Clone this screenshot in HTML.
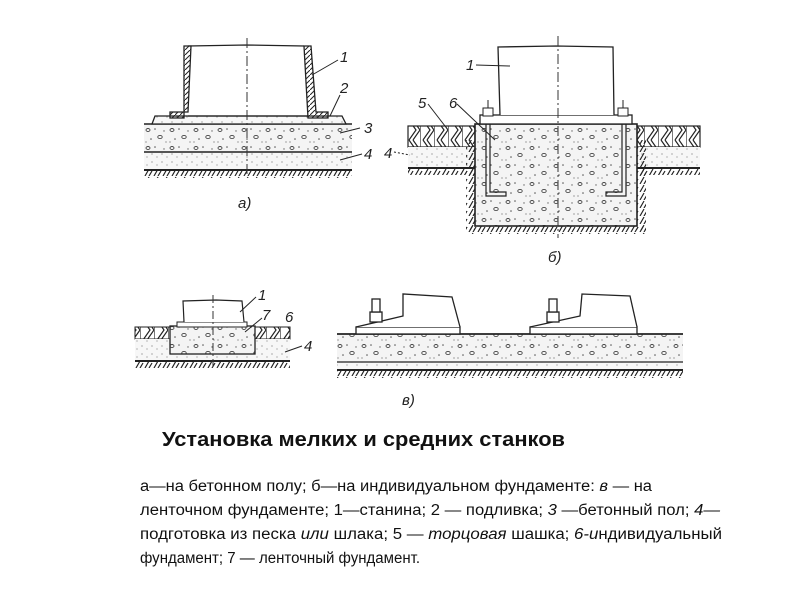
<!DOCTYPE html>
<html><head><meta charset="utf-8"><style>
html,body{margin:0;padding:0;background:#fff}
svg{display:block}
text{font-family:"Liberation Sans",sans-serif;fill:#111}
.lb{font-family:"Liberation Sans",sans-serif;font-style:italic;font-size:15px;fill:#222}
</style></head><body>
<svg width="800" height="600" viewBox="0 0 800 600" xmlns="http://www.w3.org/2000/svg">
<defs>
<pattern id="conc" width="24" height="18" patternUnits="userSpaceOnUse">
<rect width="24" height="18" fill="#f4f4f4"/>
<ellipse cx="4" cy="4" rx="2" ry="1.5" fill="none" stroke="#444" stroke-width="0.9"/>
<ellipse cx="16" cy="11" rx="2.2" ry="1.6" fill="none" stroke="#444" stroke-width="0.9"/>
<circle cx="11" cy="3" r="0.8" fill="#555"/><circle cx="20" cy="5" r="0.7" fill="#666"/>
<circle cx="7" cy="13" r="0.8" fill="#555"/><circle cx="2" cy="16" r="0.6" fill="#666"/>
<circle cx="22" cy="16" r="0.6" fill="#666"/>
</pattern>
<pattern id="sand" width="10" height="8" patternUnits="userSpaceOnUse">
<rect width="10" height="8" fill="#f7f7f7"/>
<circle cx="2" cy="2" r="0.6" fill="#777"/><circle cx="7" cy="5" r="0.6" fill="#888"/>
</pattern>
<pattern id="gr" width="9" height="8" patternUnits="userSpaceOnUse">
<path d="M1 8 L5 1 M5 8 L8 3" stroke="#222" stroke-width="1.2"/>
</pattern>
<pattern id="hatch" width="5" height="5" patternUnits="userSpaceOnUse">
<path d="M0 5 L5 0" stroke="#222" stroke-width="1"/>
</pattern>
<pattern id="parq" width="14" height="20" patternUnits="userSpaceOnUse">
<path d="M0 0 L0 20 M3 0 L10 10 L3 20 M7 0 L14 10 M7 20 L14 10" stroke="#222" stroke-width="1.2" fill="none"/>
</pattern>
</defs>

<!-- Drawing a -->
<rect x="144" y="124" width="208" height="28" fill="url(#conc)"/>
<rect x="144" y="152" width="208" height="18" fill="url(#sand)"/>
<line x1="144" y1="124" x2="352" y2="124" stroke="#222" stroke-width="1.5"/>
<line x1="144" y1="152" x2="352" y2="152" stroke="#222" stroke-width="1.5"/>
<line x1="144" y1="170" x2="352" y2="170" stroke="#222" stroke-width="2"/>
<rect x="144" y="170" width="208" height="8" fill="url(#gr)"/>
<path d="M152 124 L155 116 L342 116 L346 124 Z" fill="url(#sand)" stroke="#222" stroke-width="1.3"/>
<polygon points="184,46 191,46 188,112 170,112 170,118 180,118 184,118" fill="url(#hatch)" stroke="#222" stroke-width="1.3"/>
<polygon points="304,46 311,46 316,112 328,112 328,118 310,118 308,118" fill="url(#hatch)" stroke="#222" stroke-width="1.3"/>
<path d="M188 46 L246 45 L304 46" stroke="#222" fill="none" stroke-width="1.3"/>
<line x1="188" y1="116" x2="308" y2="116" stroke="#222" stroke-width="1.3"/>
<line x1="247" y1="38" x2="247" y2="176" stroke="#333" stroke-width="1" stroke-dasharray="10,3,2,3"/>
<line x1="312" y1="75" x2="338" y2="60" stroke="#222"/><text class="lb" x="340" y="62">1</text>
<line x1="330" y1="116" x2="340" y2="95" stroke="#222"/><text class="lb" x="340" y="93">2</text>
<line x1="340" y1="133" x2="360" y2="128" stroke="#222"/><text class="lb" x="364" y="133">3</text>
<line x1="340" y1="160" x2="362" y2="154" stroke="#222"/><text class="lb" x="364" y="159">4</text>
<text class="lb" x="238" y="208" font-size="16">a)</text>

<!-- Drawing b -->
<rect x="408" y="126" width="67" height="21" fill="url(#parq)" stroke="#222" stroke-width="1.2"/>
<rect x="637" y="126" width="63" height="21" fill="url(#parq)" stroke="#222" stroke-width="1.2"/>
<rect x="408" y="147" width="67" height="20" fill="url(#sand)"/>
<rect x="637" y="147" width="63" height="20" fill="url(#sand)"/>
<line x1="408" y1="168" x2="475" y2="168" stroke="#222" stroke-width="2"/>
<line x1="637" y1="168" x2="700" y2="168" stroke="#222" stroke-width="2"/>
<rect x="408" y="168" width="67" height="7" fill="url(#gr)"/>
<rect x="637" y="168" width="63" height="7" fill="url(#gr)"/>
<rect x="466" y="140" width="9" height="90" fill="url(#gr)"/>
<rect x="637" y="140" width="9" height="90" fill="url(#gr)"/>
<rect x="466" y="226" width="180" height="8" fill="url(#gr)"/>
<rect x="475" y="124" width="162" height="102" fill="url(#conc)" stroke="#222" stroke-width="1.6"/>
<rect x="480" y="115" width="152" height="9" fill="#fff" stroke="#222" stroke-width="1.3"/>
<path d="M500 115 L498 47 L556 46 L613 47 L614 115" fill="#fff" stroke="#222" stroke-width="1.3"/>
<rect x="483" y="108" width="10" height="8" fill="#fff" stroke="#222"/>
<rect x="618" y="108" width="10" height="8" fill="#fff" stroke="#222"/>
<line x1="488" y1="100" x2="488" y2="108" stroke="#222"/><line x1="623" y1="100" x2="623" y2="108" stroke="#222"/>
<path d="M486 124 L486 196 L506 196 L506 192 L490 192 L490 124" fill="none" stroke="#222" stroke-width="1.2"/>
<path d="M626 124 L626 196 L606 196 L606 192 L622 192 L622 124" fill="none" stroke="#222" stroke-width="1.2"/>
<line x1="558" y1="36" x2="558" y2="238" stroke="#333" stroke-width="1" stroke-dasharray="10,3,2,3"/>
<line x1="476" y1="65" x2="510" y2="66" stroke="#222"/><text class="lb" x="466" y="70">1</text>
<text class="lb" x="418" y="108">5</text><line x1="428" y1="104" x2="445" y2="126" stroke="#222"/>
<text class="lb" x="449" y="108">6</text><line x1="457" y1="104" x2="495" y2="140" stroke="#222"/>
<text class="lb" x="384" y="158">4</text><line x1="394" y1="152" x2="410" y2="155" stroke="#222" stroke-dasharray="2,2"/>
<text class="lb" x="548" y="262" font-size="16">б)</text>

<!-- Drawing v left -->
<rect x="135" y="327" width="35" height="12" fill="url(#parq)" stroke="#222"/>
<rect x="255" y="327" width="35" height="12" fill="url(#parq)" stroke="#222"/>
<rect x="135" y="339" width="155" height="22" fill="url(#sand)"/>
<rect x="170" y="326" width="85" height="28" fill="url(#conc)" stroke="#222" stroke-width="1.3"/>
<line x1="135" y1="361" x2="290" y2="361" stroke="#222" stroke-width="2"/>
<rect x="135" y="361" width="155" height="7" fill="url(#gr)"/>
<rect x="177" y="322" width="70" height="5" fill="#fff" stroke="#222"/>
<path d="M184 322 L183 301 L216 300 L242 301 L244 322" fill="#fff" stroke="#222" stroke-width="1.2"/>
<line x1="213" y1="295" x2="213" y2="370" stroke="#333" stroke-dasharray="8,3,2,3"/>
<text class="lb" x="258" y="300">1</text><line x1="256" y1="297" x2="240" y2="312" stroke="#222"/>
<text class="lb" x="262" y="320">7</text><line x1="262" y1="318" x2="245" y2="332" stroke="#222"/>
<text class="lb" x="285" y="322">6</text>
<text class="lb" x="304" y="351">4</text><line x1="302" y1="346" x2="285" y2="352" stroke="#222"/>

<!-- Drawing v right -->
<rect x="337" y="334" width="346" height="28" fill="url(#conc)"/>
<rect x="337" y="362" width="346" height="8" fill="url(#sand)"/>
<line x1="337" y1="334" x2="683" y2="334" stroke="#222" stroke-width="1.8"/>
<line x1="337" y1="362" x2="683" y2="362" stroke="#222" stroke-width="1.3"/>
<line x1="337" y1="370" x2="683" y2="370" stroke="#222" stroke-width="2"/>
<rect x="337" y="370" width="346" height="8" fill="url(#gr)"/>
<g fill="#fff" stroke="#222" stroke-width="1.3">
<rect x="356" y="327" width="104" height="7"/>
<path d="M356 327 L403 316 L403 294 L452 297 L460 327"/>
<rect x="370" y="312" width="12" height="10"/><rect x="372" y="299" width="8" height="13"/>
<rect x="530" y="327" width="107" height="7"/>
<path d="M530 327 L580 316 L582 294 L630 296 L637 327"/>
<rect x="547" y="312" width="12" height="10"/><rect x="549" y="299" width="8" height="13"/>
</g>
<text class="lb" x="402" y="405" font-size="17">в)</text>

<!-- Caption -->
<text x="162" y="446" font-size="20" font-weight="bold" textLength="403" lengthAdjust="spacingAndGlyphs">Установка мелких и средних станков</text>
<g font-size="15.5">
<text x="140" y="491" textLength="512" lengthAdjust="spacingAndGlyphs">а—на бетонном полу; б—на индивидуальном фундаменте: <tspan font-style="italic">в</tspan> — на</text>
<text x="140" y="515" textLength="580" lengthAdjust="spacingAndGlyphs">ленточном фундаменте; 1—станина; 2 — подливка; <tspan font-style="italic">3</tspan> —бетонный пол; <tspan font-style="italic">4—</tspan></text>
<text x="140" y="539" textLength="582" lengthAdjust="spacingAndGlyphs">подготовка из песка <tspan font-style="italic">или</tspan> шлака; 5 — <tspan font-style="italic">торцовая</tspan> шашка; <tspan font-style="italic">6-и</tspan>ндивидуальный</text>
<text x="140" y="563" textLength="280" lengthAdjust="spacingAndGlyphs">фундамент; 7 — ленточный фундамент.</text>
</g>
</svg>
</body></html>
